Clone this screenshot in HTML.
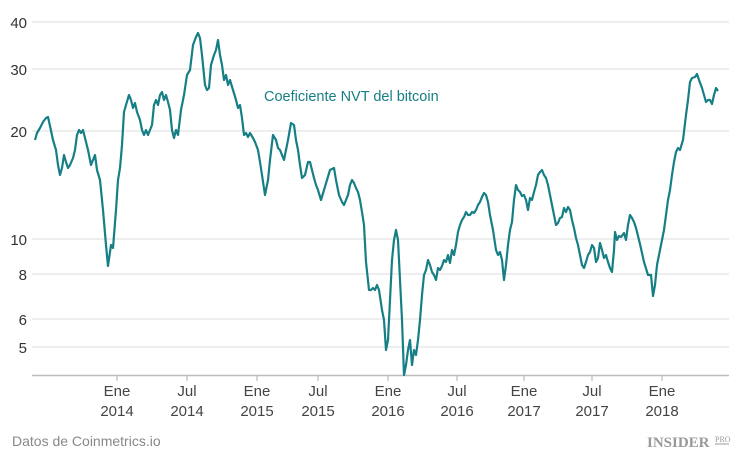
<!DOCTYPE html>
<html><head><meta charset="utf-8"><style>
body{margin:0;background:#fff;}
svg{display:block;font-family:"Liberation Sans",sans-serif;}
</style></head><body>
<svg width="750" height="463" viewBox="0 0 750 463">
<g stroke="#e3e3e3" stroke-width="1.2">
<line x1="32" x2="729" y1="22" y2="22"/><line x1="32" x2="729" y1="69" y2="69"/>
<line x1="32" x2="729" y1="131" y2="131"/><line x1="32" x2="729" y1="239" y2="239"/>
<line x1="32" x2="729" y1="274" y2="274"/><line x1="32" x2="729" y1="319" y2="319"/>
<line x1="32" x2="729" y1="347" y2="347"/>
</g>
<line x1="32" x2="729" y1="375.5" y2="375.5" stroke="#bbb" stroke-width="1.5"/>
<g stroke="#bbb" stroke-width="1.2">
<line x1="117" x2="117" y1="375" y2="381"/><line x1="187" x2="187" y1="375" y2="381"/>
<line x1="257" x2="257" y1="375" y2="381"/><line x1="318" x2="318" y1="375" y2="381"/>
<line x1="388" x2="388" y1="375" y2="381"/><line x1="457" x2="457" y1="375" y2="381"/>
<line x1="524" x2="524" y1="375" y2="381"/><line x1="592" x2="592" y1="375" y2="381"/>
<line x1="662" x2="662" y1="375" y2="381"/>
</g>
<g fill="#333" font-size="15" text-anchor="end">
<text x="27" y="28">40</text><text x="27" y="75">30</text><text x="27" y="137">20</text>
<text x="27" y="245">10</text><text x="27" y="280">8</text><text x="27" y="325">6</text><text x="27" y="353">5</text>
</g>
<g fill="#444" font-size="15" text-anchor="middle">
<text x="117" y="396">Ene</text><text x="117" y="416">2014</text>
<text x="187" y="396">Jul</text><text x="187" y="416">2014</text>
<text x="257" y="396">Ene</text><text x="257" y="416">2015</text>
<text x="318" y="396">Jul</text><text x="318" y="416">2015</text>
<text x="388" y="396">Ene</text><text x="388" y="416">2016</text>
<text x="457" y="396">Jul</text><text x="457" y="416">2016</text>
<text x="524" y="396">Ene</text><text x="524" y="416">2017</text>
<text x="592" y="396">Jul</text><text x="592" y="416">2017</text>
<text x="662" y="396">Ene</text><text x="662" y="416">2018</text>
</g>
<polyline fill="none" stroke="#167f85" stroke-width="2.2" stroke-linejoin="round" points="35,140 37,133 40,128 43,122 46,118 48,117 50,126 53,140 56,150 58,165 60,175 62,168 64,155 66,162 68,168 70,165 73,158 75,150 77,135 79,130 81,133 83,130 85,138 88,150 91,165 93,160 95,155 97,170 100,180 103,210 106,245 108,266 111,245 113,248 116,210 118,180 120,168 122,145 124,112 126,105 129,95 131,100 133,108 135,103 137,112 140,120 142,130 144,135 146,130 148,135 150,130 152,125 154,105 156,100 158,105 160,95 162,92 164,100 166,95 168,102 170,110 172,130 174,138 176,130 178,135 181,110 184,95 187,75 190,70 193,45 196,37 198,33 200,38 202,55 205,85 207,90 209,88 211,65 214,55 216,50 218,40 220,55 222,65 224,80 226,75 228,85 230,80 233,90 236,100 238,108 240,105 242,118 244,135 246,133 248,137 250,133 253,138 255,142 258,150 260,162 262,175 265,195 268,180 270,160 273,135 276,140 278,148 280,150 282,155 284,160 286,150 288,140 291,123 294,125 296,140 298,150 300,165 302,178 305,175 308,162 310,162 312,170 314,178 316,185 318,190 321,200 324,190 327,180 330,170 334,168 336,180 339,195 342,202 344,205 346,200 348,195 350,185 352,180 354,183 356,188 358,192 360,200 362,212 364,225 366,262 369,290 371,290 373,288 375,290 377,285 379,290 382,310 384,320 386,350 388,340 390,300 392,260 394,240 396,230 398,240 400,280 402,320 404,375 406,365 408,350 410,340 412,365 414,350 416,355 418,340 420,320 422,295 424,275 426,270 428,260 430,265 432,272 434,275 436,280 438,268 440,270 442,266 444,260 446,262 448,255 450,263 452,250 454,255 456,245 458,232 460,225 462,220 464,217 466,212 468,215 470,215 472,212 474,213 476,210 478,205 480,202 482,197 484,193 486,195 488,202 490,215 493,230 496,250 498,255 500,252 502,260 504,280 506,265 508,245 510,230 512,222 514,200 516,185 518,190 520,192 522,196 524,195 526,200 528,210 530,198 532,200 534,192 536,185 538,175 540,172 542,170 544,175 546,178 548,185 550,195 552,205 554,215 556,225 558,223 560,218 562,217 564,208 566,212 568,207 570,210 572,220 574,228 576,238 578,245 580,255 582,265 584,268 586,262 588,255 590,252 592,245 594,248 596,262 598,258 600,243 602,250 604,258 606,255 608,262 610,268 612,272 614,250 615,232 617,240 619,236 621,237 624,233 626,240 628,225 630,215 632,218 634,222 636,228 638,236 640,244 644,262 648,275 651,275 653,296 655,285 657,265 660,250 664,230 666,215 668,200 670,190 672,175 674,162 676,152 678,148 680,150 683,140 686,115 688,100 690,82 692,78 695,77 697,74 699,80 702,88 704,95 706,102 708,100 710,100 712,104 714,95 716,88 718,91"/>
<text x="264" y="101" fill="#167f85" font-size="14.5">Coeficiente NVT del bitcoin</text>
<text x="12" y="446" fill="#888" font-size="14">Datos de Coinmetrics.io</text>
<text x="647" y="447" fill="#999" font-size="15" font-weight="bold" font-family="Liberation Serif,serif">INSIDER</text>
<text x="715" y="442" fill="#999" font-size="8" font-family="Liberation Serif,serif">PRO</text>
<line x1="715" x2="729" y1="444" y2="444" stroke="#999" stroke-width="1"/>
</svg>
</body></html>
